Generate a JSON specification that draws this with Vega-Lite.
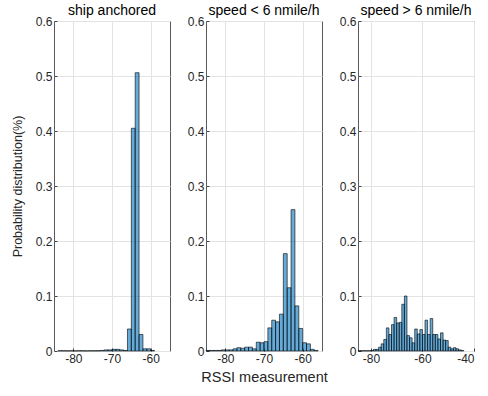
{
  "$schema": "https://vega.github.io/schema/vega-lite/v6.json",
  "padding": {"left": 10, "top": 3, "right": 4, "bottom": 5},
  "background": "white",
  "spacing": 36,
  "bounds": "flush",
  "config": {
    "font": "Arial",
    "view": {"stroke": "#5a5a5a", "strokeWidth": 1},
    "axis": {
      "domain": false,
      "labelFont": "Arial",
      "labelFontSize": 12,
      "labelColor": "#262626",
      "titleFont": "Arial",
      "titleFontSize": 14.5,
      "titleFontWeight": "normal",
      "titleColor": "#262626",
      "gridColor": "#e3e3e3",
      "gridWidth": 1,
      "ticks": true,
      "tickSize": -3,
      "tickColor": "#404040",
      "labelPadding": 5,
      "labelExpr": "'' + datum.value"
    },
    "axisY": {"titlePadding": 11, "titleFontSize": 12.5},
    "axisX": {"titlePadding": 6},
    "title": {"font": "Arial", "fontSize": 14, "fontWeight": "normal", "color": "#000000", "offset": -3}
  },
  "datasets": {
    "anchored": [
      {"lo": -84, "hi": -83, "p": 0.0005},
      {"lo": -83, "hi": -82, "p": 0.0005},
      {"lo": -82, "hi": -81, "p": 0.0003},
      {"lo": -81, "hi": -80, "p": 0.0005},
      {"lo": -80, "hi": -79, "p": 0.0003},
      {"lo": -79, "hi": -78, "p": 0.0005},
      {"lo": -78, "hi": -77, "p": 0.0005},
      {"lo": -77, "hi": -76, "p": 0.0003},
      {"lo": -76, "hi": -75, "p": 0.0005},
      {"lo": -75, "hi": -74, "p": 0.0005},
      {"lo": -74, "hi": -73, "p": 0.0005},
      {"lo": -73, "hi": -72, "p": 0.001},
      {"lo": -72, "hi": -71, "p": 0.002},
      {"lo": -71, "hi": -70, "p": 0.002},
      {"lo": -70, "hi": -69, "p": 0.003},
      {"lo": -69, "hi": -68, "p": 0.003},
      {"lo": -68, "hi": -67, "p": 0.002},
      {"lo": -67, "hi": -66, "p": 0.001},
      {"lo": -66, "hi": -65, "p": 0.04},
      {"lo": -65, "hi": -64, "p": 0.405},
      {"lo": -64, "hi": -63, "p": 0.506},
      {"lo": -63, "hi": -62, "p": 0.03},
      {"lo": -62, "hi": -61, "p": 0.004},
      {"lo": -61, "hi": -60, "p": 0.004},
      {"lo": -60, "hi": -59, "p": 0.001}
    ],
    "slow": [
      {"lo": -85, "hi": -84, "p": 0.001},
      {"lo": -84, "hi": -83, "p": 0.001},
      {"lo": -83, "hi": -82, "p": 0.001},
      {"lo": -82, "hi": -81, "p": 0.001},
      {"lo": -81, "hi": -80, "p": 0.002},
      {"lo": -80, "hi": -79, "p": 0.002},
      {"lo": -79, "hi": -78, "p": 0.002},
      {"lo": -78, "hi": -77, "p": 0.004},
      {"lo": -77, "hi": -76, "p": 0.006},
      {"lo": -76, "hi": -75, "p": 0.005},
      {"lo": -75, "hi": -74, "p": 0.007},
      {"lo": -74, "hi": -73, "p": 0.007},
      {"lo": -73, "hi": -72, "p": 0.004},
      {"lo": -72, "hi": -71, "p": 0.016},
      {"lo": -71, "hi": -70, "p": 0.015},
      {"lo": -70, "hi": -69, "p": 0.017},
      {"lo": -69, "hi": -68, "p": 0.042},
      {"lo": -68, "hi": -67, "p": 0.056},
      {"lo": -67, "hi": -66, "p": 0.053},
      {"lo": -66, "hi": -65, "p": 0.067},
      {"lo": -65, "hi": -64, "p": 0.177},
      {"lo": -64, "hi": -63, "p": 0.115},
      {"lo": -63, "hi": -62, "p": 0.257},
      {"lo": -62, "hi": -61, "p": 0.082},
      {"lo": -61, "hi": -60, "p": 0.041},
      {"lo": -60, "hi": -59, "p": 0.015},
      {"lo": -59, "hi": -58, "p": 0.013},
      {"lo": -58, "hi": -57, "p": 0.003},
      {"lo": -57, "hi": -56, "p": 0.001}
    ],
    "fast": [
      {"lo": -85, "hi": -84, "p": 0.0005},
      {"lo": -84, "hi": -83, "p": 0.0005},
      {"lo": -83, "hi": -82, "p": 0.0005},
      {"lo": -82, "hi": -81, "p": 0.0005},
      {"lo": -81, "hi": -80, "p": 0.0005},
      {"lo": -80, "hi": -79, "p": 0.001},
      {"lo": -79, "hi": -78, "p": 0.003},
      {"lo": -78, "hi": -77, "p": 0.003},
      {"lo": -77, "hi": -76, "p": 0.007},
      {"lo": -76, "hi": -75, "p": 0.013},
      {"lo": -75, "hi": -74, "p": 0.021},
      {"lo": -74, "hi": -73, "p": 0.042},
      {"lo": -73, "hi": -72, "p": 0.030},
      {"lo": -72, "hi": -71, "p": 0.048},
      {"lo": -71, "hi": -70, "p": 0.061},
      {"lo": -70, "hi": -69, "p": 0.051},
      {"lo": -69, "hi": -68, "p": 0.052},
      {"lo": -68, "hi": -67, "p": 0.085},
      {"lo": -67, "hi": -66, "p": 0.100},
      {"lo": -66, "hi": -65, "p": 0.028},
      {"lo": -65, "hi": -64, "p": 0.024},
      {"lo": -64, "hi": -63, "p": 0.015},
      {"lo": -63, "hi": -62, "p": 0.040},
      {"lo": -62, "hi": -61, "p": 0.031},
      {"lo": -61, "hi": -60, "p": 0.039},
      {"lo": -60, "hi": -59, "p": 0.030},
      {"lo": -59, "hi": -58, "p": 0.056},
      {"lo": -58, "hi": -57, "p": 0.030},
      {"lo": -57, "hi": -56, "p": 0.059},
      {"lo": -56, "hi": -55, "p": 0.030},
      {"lo": -55, "hi": -54, "p": 0.030},
      {"lo": -54, "hi": -53, "p": 0.022},
      {"lo": -53, "hi": -52, "p": 0.033},
      {"lo": -52, "hi": -51, "p": 0.020},
      {"lo": -51, "hi": -50, "p": 0.019},
      {"lo": -50, "hi": -49, "p": 0.007},
      {"lo": -49, "hi": -48, "p": 0.004},
      {"lo": -48, "hi": -47, "p": 0.006},
      {"lo": -47, "hi": -46, "p": 0.004},
      {"lo": -46, "hi": -45, "p": 0.002},
      {"lo": -45, "hi": -44, "p": 0.001}
    ]
  },
  "hconcat": [
    {
      "title": "ship anchored",
      "width": 116,
      "height": 330,
      "data": {"name": "anchored"},
      "mark": {"type": "bar", "fill": "#0072BD", "fillOpacity": 0.6, "stroke": "#000000", "strokeWidth": 0.6},
      "encoding": {
        "x": {"field": "lo", "type": "quantitative", "scale": {"domain": [-85, -55], "nice": false, "zero": false}, "axis": {"values": [-80, -70, -60], "title": null}},
        "x2": {"field": "hi"},
        "y": {"field": "p", "type": "quantitative", "scale": {"domain": [0, 0.6], "nice": false}, "axis": {"values": [0, 0.1, 0.2, 0.3, 0.4, 0.5, 0.6], "title": "Probability  distribution(%)"}},
        "y2": {"datum": 0}
      }
    },
    {
      "title": "speed < 6 nmile/h",
      "width": 116,
      "height": 330,
      "data": {"name": "slow"},
      "mark": {"type": "bar", "fill": "#0072BD", "fillOpacity": 0.6, "stroke": "#000000", "strokeWidth": 0.6},
      "encoding": {
        "x": {"field": "lo", "type": "quantitative", "scale": {"domain": [-85, -55], "nice": false, "zero": false}, "axis": {"values": [-80, -70, -60], "title": "RSSI measurement"}},
        "x2": {"field": "hi"},
        "y": {"field": "p", "type": "quantitative", "scale": {"domain": [0, 0.6], "nice": false}, "axis": {"values": [0, 0.1, 0.2, 0.3, 0.4, 0.5, 0.6], "title": null}},
        "y2": {"datum": 0}
      }
    },
    {
      "title": "speed > 6 nmile/h",
      "width": 116,
      "height": 330,
      "data": {"name": "fast"},
      "mark": {"type": "bar", "fill": "#0072BD", "fillOpacity": 0.6, "stroke": "#000000", "strokeWidth": 0.6},
      "encoding": {
        "x": {"field": "lo", "type": "quantitative", "scale": {"domain": [-85, -40], "nice": false, "zero": false}, "axis": {"values": [-80, -60, -40], "title": null}},
        "x2": {"field": "hi"},
        "y": {"field": "p", "type": "quantitative", "scale": {"domain": [0, 0.6], "nice": false}, "axis": {"values": [0, 0.1, 0.2, 0.3, 0.4, 0.5, 0.6], "title": null}},
        "y2": {"datum": 0}
      }
    }
  ]
}
